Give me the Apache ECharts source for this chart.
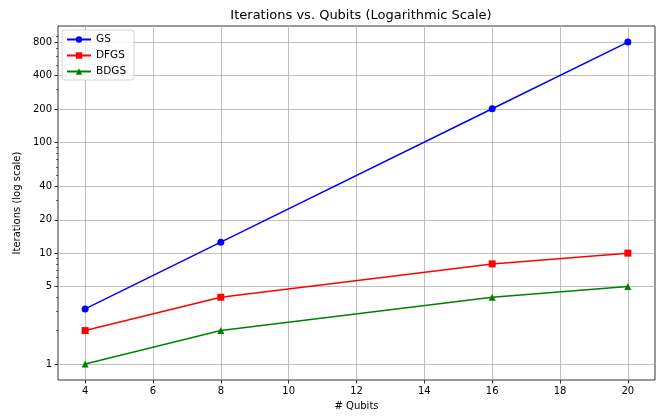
<!DOCTYPE html>
<html><head><meta charset="utf-8">
<script src="https://cdn.jsdelivr.net/npm/echarts@6/dist/echarts.min.js"></script>
<style>html,body{margin:0;padding:0;background:#fff}#c{width:669px;height:416px}</style>
</head><body><div id="c"></div>
<script>
var qubits = [4, 8, 16, 20];
var gsValues = [3.14, 12.57, 201.06, 804.25];
var dfgsValues = [2, 4, 8, 10];
var bdgsValues = [1, 2, 4, 5];
var xTicks = [4, 6, 8, 10, 12, 14, 16, 18, 20];
var yTicks = [1, 5, 10, 20, 40, 100, 200, 400, 800];
var yMinorTicks = [2,3,4,6,7,8,9,30,50,60,70,80,90,300,500,600,700,900];

function pairs(v){ return qubits.map(function(q,i){return [q, v[i]];}); }

var font = 'DejaVu Sans';
var chart = echarts.init(document.getElementById('c'), null, {renderer:'canvas'});
var yMin = 0.716, yMax = 1123;
chart.setOption({
  animation:false,
  backgroundColor:'#fff',
  title:{text:'Iterations vs. Qubits (Logarithmic Scale)', left:356, top:4, textAlign:'center',
    textStyle:{fontFamily:font, fontSize:13, fontWeight:'normal', color:'#000'}},
  grid:{left:58, right:14, top:26, bottom:36, show:true, borderColor:'#000', borderWidth:0.8, backgroundColor:'transparent'},
  legend:{left:62, top:30, orient:'vertical', itemGap:5, itemWidth:24, itemHeight:8,
    backgroundColor:'rgba(255,255,255,0.8)', borderColor:'#ccc', borderWidth:0.8, borderRadius:3, padding:[4,8,3,4],
    textStyle:{fontFamily:font, fontSize:10.5, color:'#000'},
    data:['GS','DFGS','BDGS']},
  xAxis:{type:'value', min:3.2, max:20.8, name:'# Qubits', nameLocation:'middle', nameGap:21,
    nameTextStyle:{fontFamily:font, fontSize:10, color:'#000'},
    axisLine:{show:false}, axisTick:{show:true, customValues:xTicks, length:3.5, lineStyle:{color:'#000', width:0.8}},
    axisLabel:{customValues:xTicks, fontFamily:font, fontSize:10, color:'#000', margin:6},
    splitLine:{show:true, lineStyle:{color:'#b0b0b0', width:0.8}}},
  yAxis:[{type:'log', min:yMin, max:yMax, name:'Iterations (log scale)', nameLocation:'middle', nameGap:28,
    nameTextStyle:{fontFamily:font, fontSize:10, color:'#000'},
    axisLine:{show:false}, axisTick:{show:true, customValues:yTicks, length:3.5, lineStyle:{color:'#000', width:0.8}},
    axisLabel:{customValues:yTicks, fontFamily:font, fontSize:10, color:'#000', margin:6},
    splitLine:{show:true, lineStyle:{color:'#b0b0b0', width:0.8}}},
   {type:'log', min:yMin, max:yMax, position:'left',
    axisLine:{show:false}, axisTick:{show:true, customValues:yMinorTicks, length:2, lineStyle:{color:'#000', width:0.6}},
    axisLabel:{show:false}, splitLine:{show:false}}],
  series:[
    {name:'GS', type:'line', data:pairs(gsValues), symbol:'circle', symbolSize:7, color:'#0000ff',
      lineStyle:{width:1.5}, itemStyle:{color:'#0000ff'}},
    {name:'DFGS', type:'line', data:pairs(dfgsValues), symbol:'rect', symbolSize:7, color:'#ff0000',
      lineStyle:{width:1.5}, itemStyle:{color:'#ff0000'}},
    {name:'BDGS', type:'line', data:pairs(bdgsValues), symbol:'triangle', symbolSize:7, color:'#008000',
      lineStyle:{width:1.5}, itemStyle:{color:'#008000'}}
  ]
});
</script></body></html>
